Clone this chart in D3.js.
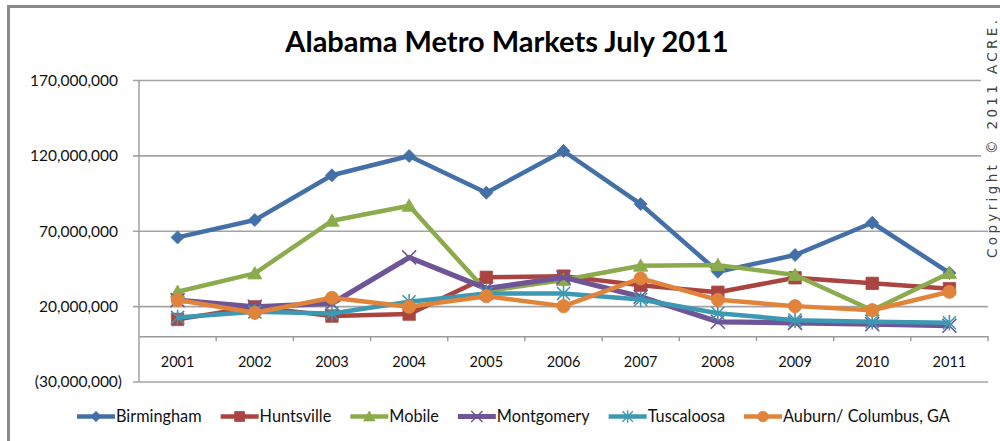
<!DOCTYPE html>
<html>
<head>
<meta charset="utf-8">
<script src="https://cdn.jsdelivr.net/npm/d3@7/dist/d3.min.js"></script>
<style>
  html, body { margin: 0; padding: 0; background: #fff; }
  svg { display: block; }
</style>
</head>
<body>
<svg id="chart" width="1000" height="441"></svg>
<script>
// Annual volume by metro market, 2001-2011
const years = ["2001", "2002", "2003", "2004", "2005", "2006", "2007", "2008", "2009", "2010", "2011"];

const birmingham = [65600000, 77100000, 106800000, 119600000, 95200000, 122900000, 87700000, 42800000, 53900000, 75300000, 42000000];
const huntsville = [11200000, 19500000, 13400000, 14700000, 39100000, 39900000, 33900000, 29200000, 38800000, 35100000, 31500000];
const mobile     = [29500000, 41700000, 76600000, 86600000, 30000000, 37300000, 46800000, 47200000, 40600000, 17300000, 42000000];
const montgomery = [24000000, 19600000, 21800000, 52300000, 31700000, 39100000, 26200000, 9600000, 8900000, 8000000, 7000000];
const tuscaloosa = [12500000, 16200000, 15100000, 22900000, 28400000, 28400000, 24400000, 15300000, 10700000, 9600000, 9000000];
const auburn     = [24000000, 15600000, 25500000, 19600000, 26600000, 20000000, 38400000, 24200000, 20000000, 17300000, 29500000];

const seriesNames = ["Birmingham", "Huntsville", "Mobile", "Montgomery", "Tuscaloosa", "Auburn/ Columbus, GA"];
const seriesValues = [birmingham, huntsville, mobile, montgomery, tuscaloosa, auburn];
const seriesColors = ["#4470a8", "#aa4440", "#8bab4c", "#6f5596", "#3d98b2", "#e0843c"];
const seriesMarkers = ["diamond", "square", "triangle", "x", "star", "circle"];

const yTicks = [-30000000, 20000000, 70000000, 120000000, 170000000];

const chartTitle = "Alabama Metro Markets July 2011";
const copyright = "Copyright \u00a9 2011 ACRE.";

const svg = d3.select("#chart");
const font = "Lato, 'Open Sans', sans-serif";

// plot box
const plot = { left: 139, right: 988, top: 80, bottom: 381.5 };

const x = d3.scaleBand().domain(years).range([plot.left, plot.right]).paddingInner(0).paddingOuter(0);
const y = d3.scaleLinear().domain([d3.min(yTicks), d3.max(yTicks)]).range([plot.bottom, plot.top]);
const cx = d => x(d) + x.bandwidth() / 2;

// outer frame (left and top edges)
svg.append("path")
  .attr("d", `M8.5,441 L8.5,6.5 L1000,6.5`)
  .attr("fill", "none")
  .attr("stroke", "#8a8a8a")
  .attr("stroke-width", 3);

// title
svg.append("text")
  .attr("x", 507)
  .attr("y", 52)
  .attr("text-anchor", "middle")
  .attr("font-family", font)
  .attr("font-weight", "bold")
  .attr("font-size", 29)
  .attr("fill", "#000")
  .text(chartTitle);

// value axis with gridlines
const fmt = d3.format(",");
const yAxis = d3.axisLeft(y)
  .tickValues(yTicks)
  .tickSize(-(plot.right - plot.left))
  .tickSizeOuter(0)
  .tickPadding(0)
  .tickFormat(v => v < 0 ? `(${fmt(-v)})` : fmt(v));

const gy = svg.append("g")
  .attr("transform", `translate(${plot.left},0)`)
  .call(yAxis);
gy.select(".domain").remove();
gy.selectAll(".tick line")
  .attr("x1", -6)
  .attr("stroke", "#a3a3a3")
  .attr("stroke-width", 1.6);
gy.selectAll(".tick text")
  .attr("x", d => d < 0 ? -17 : -21)
  .attr("dy", "0.34em")
  .attr("font-family", font)
  .attr("font-size", 15.5)
  .attr("fill", "#111");

// vertical axis line
svg.append("line")
  .attr("x1", plot.left).attr("x2", plot.left)
  .attr("y1", plot.top).attr("y2", plot.bottom)
  .attr("stroke", "#9a9a9a")
  .attr("stroke-width", 1.4);

// category axis at zero
const xAxis = d3.axisBottom(x)
  .tickSize(0)
  .tickSizeOuter(0)
  .tickPadding(20);
const gx = svg.append("g")
  .attr("transform", `translate(0,${y(0)})`)
  .call(xAxis);
gx.select(".domain")
  .attr("stroke", "#9a9a9a")
  .attr("stroke-width", 1.4);
gx.selectAll(".tick text")
  .attr("font-family", font)
  .attr("font-size", 14.5)
  .attr("fill", "#111");

// boundary ticks between categories
gx.selectAll("line.bound")
  .data(d3.range(1, years.length + 1))
  .join("line")
  .attr("class", "bound")
  .attr("x1", i => plot.left + i * x.step())
  .attr("x2", i => plot.left + i * x.step())
  .attr("y1", 0).attr("y2", 5)
  .attr("stroke", "#9a9a9a")
  .attr("stroke-width", 1.4);

// marker shapes
function markerPath(type, s) {
  switch (type) {
    case "diamond": return `M0,${-s}L${s},0L0,${s}L${-s},0Z`;
    case "square": return `M${-s},${-s}H${s}V${s}H${-s}Z`;
    case "triangle": return `M0,${-s * 1.05}L${s * 1.1},${s * 0.85}L${-s * 1.1},${s * 0.85}Z`;
    case "circle": return d3.symbol(d3.symbolCircle, Math.PI * s * s)();
    case "x": return `M${-s},${-s}L${s},${s}M${-s},${s}L${s},${-s}`;
    case "star": return `M${-s},${-s}L${s},${s}M${-s},${s}L${s},${-s}M0,${-s * 1.2}L0,${s * 1.2}`;
  }
}
const markerSize = { diamond: 6.5, square: 6.2, triangle: 6.5, circle: 6.6, x: 7, star: 6.5 };
const isStroke = t => t === "x" || t === "star";

const line = d3.line().x((d, i) => cx(years[i])).y(d => y(d));

seriesValues.forEach((vals, si) => {
  const g = svg.append("g").attr("class", "series");
  g.append("path")
    .attr("d", line(vals))
    .attr("fill", "none")
    .attr("stroke", seriesColors[si])
    .attr("stroke-width", si === 3 ? 5.2 : 4.5)
    .attr("stroke-linejoin", "round");
  const t = seriesMarkers[si];
  g.selectAll("path.m")
    .data(vals)
    .join("path")
    .attr("class", "m")
    .attr("transform", (d, i) => `translate(${cx(years[i])},${y(d)})`)
    .attr("d", markerPath(t, markerSize[t]))
    .attr("fill", isStroke(t) ? "none" : seriesColors[si])
    .attr("stroke", seriesColors[si])
    .attr("stroke-width", isStroke(t) ? 1.6 : 0.8);
});

// legend
const legend = svg.append("g").attr("class", "legend");
let lx = 77;
const ly = 416.5;
seriesNames.forEach((name, si) => {
  const item = legend.append("g").attr("transform", `translate(${lx},${ly})`);
  item.append("line")
    .attr("x1", 0).attr("x2", 38)
    .attr("stroke", seriesColors[si])
    .attr("stroke-width", si === 3 ? 5.2 : 4.5);
  const t = seriesMarkers[si];
  item.append("path")
    .attr("transform", "translate(19,0)")
    .attr("d", markerPath(t, markerSize[t] * 0.8))
    .attr("fill", isStroke(t) ? "none" : seriesColors[si])
    .attr("stroke", seriesColors[si])
    .attr("stroke-width", isStroke(t) ? 1.4 : 0.8);
  const txt = item.append("text")
    .attr("x", 39)
    .attr("dy", "0.36em")
    .attr("font-family", font)
    .attr("font-size", 16.3)
    .attr("fill", "#111")
    .text(name);
  lx += 39 + txt.node().getComputedTextLength() + 19;
});

// copyright notice along the right edge
svg.append("rect")
  .attr("x", 981).attr("y", 12)
  .attr("width", 19).attr("height", 214)
  .attr("fill", "#fff");
svg.append("text")
  .attr("transform", "translate(996.5,258) rotate(-90)")
  .attr("font-family", "'DejaVu Sans', sans-serif")
  .attr("font-size", 13.5)
  .attr("letter-spacing", 2)
  .attr("textLength", 240)
  .attr("lengthAdjust", "spacing")
  .attr("fill", "#444")
  .text(copyright);
</script>
</body>
</html>
